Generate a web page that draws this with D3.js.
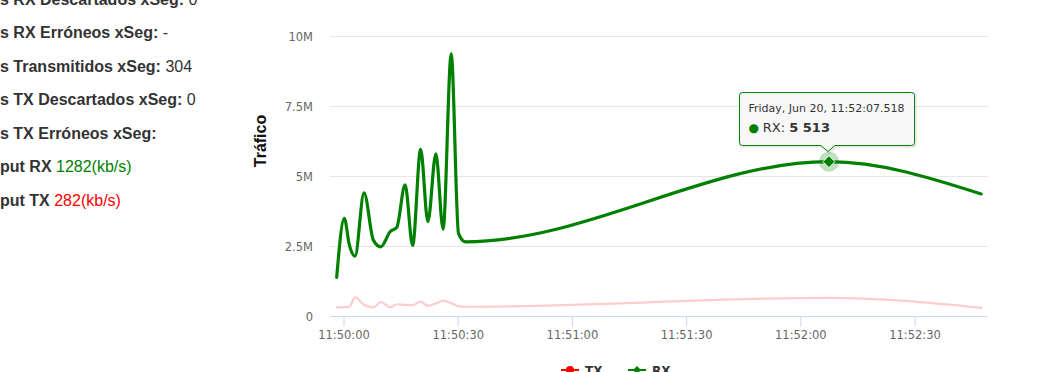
<!DOCTYPE html>
<html>
<head>
<meta charset="utf-8">
<script src="https://cdn.jsdelivr.net/npm/d3@7/dist/d3.min.js"></script>
<style>
  html, body { margin: 0; padding: 0; background: #fff; overflow: hidden; }
  svg { display: block; }
</style>
</head>
<body>
<svg id="chart" width="1042" height="372"></svg>
<script>
// ---------- DATA ----------
const day = "2025-06-20";
const times = ["11:49:58.210","11:50:00.210","11:50:01.530","11:50:03.030","11:50:05.390",
  "11:50:07.840","11:50:09.790","11:50:12.240","11:50:14.000","11:50:16.180","11:50:18.160",
  "11:50:20.260","11:50:22.160","11:50:24.260","11:50:26.160","11:50:28.290","11:50:30.210",
  "11:50:31.970","11:52:07.518","11:52:47.500"];
const rxValues = [1380,3490,2540,2140,4400,2710,2470,3010,3170,4680,2520,5950,3370,5790,3100,9360,2950,2650,5513,4360];
const txValues = [310,320,330,670,400,310,500,310,420,400,390,510,360,450,550,460,350,330,650,290];
const xTickTimes = ["11:50:00","11:50:30","11:51:00","11:51:30","11:52:00","11:52:30"];
const yTickValues = [0,2500,5000,7500,10000];
const yTickLabels = ["0","2.5M","5M","7.5M","10M"];
const xDomain = ["11:49:56.450","11:52:49.300"];
const hoverIndex = 18;
const infoRows = [
  {label: "s RX Descartados xSeg: ", value: "0", color: "#333"},
  {label: "s RX Erróneos xSeg: ", value: "-", color: "#333"},
  {label: "s Transmitidos xSeg: ", value: "304", color: "#333"},
  {label: "s TX Descartados xSeg: ", value: "0", color: "#333"},
  {label: "s TX Erróneos xSeg:", value: "", color: "#333"},
  {label: "put RX ", value: "1282(kb/s)", color: "#008000"},
  {label: "put TX ", value: "282(kb/s)", color: "#ff0000"}
];
const legendItems = ["TX","RX"];

// ---------- SETUP ----------
const parse = d3.timeParse("%Y-%m-%d %H:%M:%S.%L");
const parseS = d3.timeParse("%Y-%m-%d %H:%M:%S");
const svg = d3.select("#chart");
const plot = {left: 330, right: 988, top: 36, bottom: 316};

const x = d3.scaleTime()
  .domain(xDomain.map(t => parse(day + " " + t)))
  .range([plot.left, plot.right]);
const y = d3.scaleLinear().domain([0, 10000]).range([plot.bottom, plot.top]);

const rx = times.map((t, i) => ({t: parse(day + " " + t), v: rxValues[i]}));
const tx = times.map((t, i) => ({t: parse(day + " " + t), v: txValues[i]}));

// ---------- LEFT INFO TEXT ----------
const info = svg.append("g").attr("font-family", "'Liberation Sans', Arial, sans-serif").attr("font-size", 16);
infoRows.forEach((r, i) => {
  const t = info.append("text").attr("x", 0).attr("y", 4.7 + i * 33.5);
  t.append("tspan").attr("font-weight", "bold").attr("fill", "#333").text(r.label);
  if (r.value) t.append("tspan").attr("fill", r.color).text(r.value);
});

// ---------- GRID ----------
svg.append("g").selectAll("line").data(yTickValues).join("line")
  .attr("x1", plot.left).attr("x2", plot.right)
  .attr("y1", d => Math.round(y(d)) + 0.5).attr("y2", d => Math.round(y(d)) + 0.5)
  .attr("stroke", d => d === 0 ? "none" : "#e6e6e6").attr("stroke-width", 1);

// Y axis
const yAxis = d3.axisLeft(y).tickValues(yTickValues)
  .tickFormat((d, i) => yTickLabels[i]).tickSize(0).tickPadding(0);
const gy = svg.append("g").attr("transform", `translate(313,0)`).call(yAxis);
gy.select(".domain").remove();
gy.selectAll("text").attr("font-family", "'DejaVu Sans', Verdana, sans-serif")
  .attr("font-size", 11.5).attr("fill", "#666").attr("dy", "0.38em");

// Y title
svg.append("text").attr("transform", "translate(266,141) rotate(-90)")
  .attr("text-anchor", "middle").attr("font-family", "'Liberation Sans', Arial, sans-serif")
  .attr("font-size", 16).attr("font-weight", "bold").attr("fill", "#111").text("Tráfico");

// X axis
const xAxis = d3.axisBottom(x)
  .tickValues(xTickTimes.map(t => parseS(day + " " + t)))
  .tickFormat(d3.timeFormat("%H:%M:%S")).tickSize(10).tickPadding(4);
const gx = svg.append("g").attr("transform", `translate(0,${plot.bottom + 0.5})`).call(xAxis);
gx.select(".domain").attr("d", `M${plot.left},0H${plot.right}`).attr("stroke", "#ccd6eb");
gx.selectAll(".tick line").attr("stroke", "#ccd6eb");
gx.selectAll("text").attr("font-family", "'DejaVu Sans', Verdana, sans-serif")
  .attr("font-size", 11.5).attr("fill", "#666");

// ---------- LINES ----------
const line = d3.line().x(d => x(d.t)).y(d => y(d.v)).curve(d3.curveMonotoneX);
svg.append("path").datum(tx).attr("d", line).attr("fill", "none")
  .attr("stroke", "#ff0000").attr("stroke-opacity", 0.2).attr("stroke-width", 2.2)
  .attr("stroke-linejoin", "round").attr("stroke-linecap", "round");
svg.append("path").datum(rx).attr("d", line).attr("fill", "none")
  .attr("stroke", "#008000").attr("stroke-width", 3.2)
  .attr("stroke-linejoin", "round").attr("stroke-linecap", "round");

// ---------- HOVER MARKER ----------
const hp = rx[hoverIndex];
const px = x(hp.t), py = y(hp.v);
svg.append("circle").attr("cx", px).attr("cy", py).attr("r", 10)
  .attr("fill", "#008000").attr("fill-opacity", 0.25);
const dm = 6;
svg.append("path").attr("d", `M${px},${py - dm}L${px + dm},${py}L${px},${py + dm}L${px - dm},${py}Z`)
  .attr("fill", "#008000").attr("stroke", "#fff").attr("stroke-width", 1);

// ---------- TOOLTIP ----------
const bw = 175, bh = 53;
const bx = Math.round(px - 90) + 0.5, by = Math.round(py - 70) + 0.5;
const ax = px - 1;
const tipPath = `M${bx + 3},${by}H${bx + bw - 3}Q${bx + bw},${by} ${bx + bw},${by + 3}V${by + bh - 3}Q${bx + bw},${by + bh} ${bx + bw - 3},${by + bh}H${ax + 7}L${ax},${by + bh + 6}L${ax - 7},${by + bh}H${bx + 3}Q${bx},${by + bh} ${bx},${by + bh - 3}V${by + 3}Q${bx},${by} ${bx + 3},${by}Z`;
const tip = svg.append("g");
tip.append("path").attr("d", tipPath).attr("transform", "translate(1,1)")
  .attr("fill", "none").attr("stroke", "#000").attr("stroke-opacity", 0.08).attr("stroke-width", 3);
tip.append("path").attr("d", tipPath).attr("fill", "rgba(247,247,247,0.85)")
  .attr("stroke", "#008000").attr("stroke-width", 1);
const fmtHeader = d3.timeFormat("%A, %b %d, %H:%M:%S.%L");
tip.append("text").attr("x", bx + 9).attr("y", by + 19)
  .attr("font-family", "'DejaVu Sans', Verdana, sans-serif").attr("font-size", 11)
  .attr("fill", "#333").text(fmtHeader(hp.t));
const t2 = tip.append("text").attr("x", bx + 9).attr("y", by + 39)
  .attr("font-family", "'DejaVu Sans', Verdana, sans-serif").attr("font-size", 13).attr("fill", "#333");
t2.append("tspan").attr("fill", "#008000").attr("font-size", 12).text("● ");
t2.append("tspan").text("RX: ");
t2.append("tspan").attr("font-weight", "bold").text(d3.format(",")(hp.v).replace(/,/g, " "));

// ---------- LEGEND ----------
const legColors = ["#ff0000", "#008000"];
const legX = [561, 628];
legendItems.forEach((name, i) => {
  const g = svg.append("g").attr("transform", `translate(${legX[i]},370)`);
  g.append("line").attr("x1", 0).attr("x2", 18).attr("stroke", legColors[i]).attr("stroke-width", 2);
  if (i === 0) g.append("circle").attr("cx", 9).attr("r", 4).attr("fill", legColors[i]);
  else g.append("path").attr("d", "M9,-4L13,0L9,4L5,0Z").attr("fill", legColors[i]);
  g.append("text").attr("x", 24).attr("y", 4.5)
    .attr("font-family", "'DejaVu Sans', Verdana, sans-serif").attr("font-size", 12)
    .attr("font-weight", "bold").attr("fill", "#333").text(name);
});
</script>
</body>
</html>
